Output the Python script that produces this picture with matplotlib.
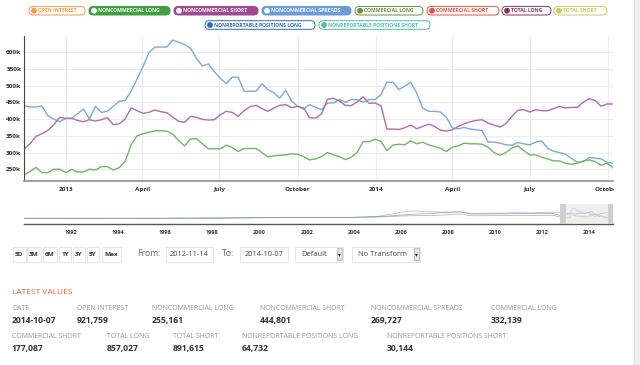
import matplotlib
matplotlib.use("Agg")
import matplotlib.pyplot as plt
import pandas as pd
from matplotlib.patches import FancyBboxPatch, Rectangle, Circle
from matplotlib.transforms import Bbox, TransformedBbox

plt.rcParams['font.family'] = ['Open Sans', 'DejaVu Sans']

# weekly COT report, thousands of contracts
weeks = pd.date_range("2012-11-13", periods=100, freq="7D")

nc_spreads = [440, 436, 436, 439, 410, 400, 392, 402, 402, 416, 430, 400, 438, 420, 423, 438, 453, 455, 483, 520, 556,
              598, 615, 615, 615, 636, 629, 623, 611, 581, 558, 565, 541, 521, 506, 525, 525, 483, 483, 483, 505,
              488, 478, 463, 486, 453, 438, 430, 443, 435, 428, 448, 448, 458, 450, 458, 458, 450, 458, 458, 473,
              510, 510, 488, 498, 510, 478, 433, 423, 423, 421, 405, 373, 371, 375, 370, 368, 366, 331, 331, 328,
              323, 322, 330, 326, 323, 331, 335, 313, 304, 300, 295, 283, 271, 273, 285, 283, 281, 271, 268]

nc_short = [310, 326, 348, 356, 366, 383, 405, 402, 402, 396, 392, 398, 394, 398, 404, 383, 386, 400, 433, 425, 417,
            420, 427, 422, 419, 406, 393, 390, 408, 405, 399, 397, 398, 413, 423, 420, 408, 425, 437, 441, 431,
            423, 433, 441, 443, 434, 438, 433, 404, 403, 415, 459, 462, 454, 441, 440, 451, 466, 447, 448, 440,
            370, 370, 369, 374, 382, 371, 378, 385, 378, 367, 364, 368, 378, 386, 392, 396, 398, 388, 382, 376,
            386, 408, 426, 428, 421, 428, 425, 425, 431, 438, 433, 435, 435, 450, 461, 455, 438, 445, 445]

nc_long = [233, 243, 256, 240, 240, 250, 250, 240, 250, 242, 242, 250, 248, 258, 258, 248, 255, 273, 323, 350, 356,
           361, 365, 365, 364, 355, 335, 320, 341, 341, 326, 311, 311, 311, 322, 315, 303, 312, 312, 312, 300,
           287, 290, 292, 293, 296, 295, 288, 278, 281, 288, 300, 293, 288, 279, 286, 300, 333, 332, 340, 333,
           306, 322, 325, 323, 335, 326, 331, 323, 318, 313, 303, 316, 320, 328, 326, 326, 325, 316, 300, 292,
           300, 313, 320, 306, 293, 293, 286, 281, 275, 275, 268, 265, 268, 275, 278, 273, 262, 268, 255]

# navigator history before the selected range (rough)
nav_dates = pd.to_datetime(["1990-01-01", "1992-01-01", "1994-01-01", "1996-01-01", "1998-01-01", "2000-01-01",
                            "2002-01-01", "2003-01-01", "2004-01-01", "2005-01-01", "2005-07-01", "2006-01-01",
                            "2006-07-01", "2007-01-01", "2007-07-01", "2008-01-01", "2008-07-01", "2009-01-01",
                            "2009-07-01", "2010-01-01", "2010-07-01", "2011-01-01", "2011-07-01", "2012-01-01",
                            "2012-07-01"])
nav_spreads = [228, 228, 229, 230, 235, 250, 255, 262, 270, 300, 380, 470, 520, 500, 480, 470, 480, 420, 430, 430,
               440, 450, 440, 460, 470]
nav_short = [228, 228, 229, 230, 238, 255, 258, 262, 268, 290, 320, 360, 390, 410, 440, 470, 490, 400, 400, 410,
             405, 420, 420, 430, 410]
nav_long = [228, 228, 229, 230, 236, 252, 256, 260, 265, 280, 300, 320, 330, 340, 350, 370, 400, 330, 330, 335,
            333, 340, 335, 345, 350]

yticks = [250, 300, 350, 400, 450, 500, 550, 600]
xtick_dates = pd.to_datetime(["2013-01-01", "2013-04-01", "2013-07-01", "2013-10-01",
                              "2014-01-01", "2014-04-01", "2014-07-01", "2014-10-01"])
xtick_labels = ["2013", "April", "July", "October", "2014", "April", "July", "October"]
nav_years = [1992, 1994, 1996, 1998, 2000, 2002, 2004, 2006, 2008, 2010, 2012, 2014]

# legend buttons: label, colour, filled, row, x0, x1
buttons = [("OPEN INTEREST", "#f39a45", False, 0, 29, 85),
           ("NONCOMMERCIAL LONG", "#3f9e3f", True, 0, 89, 170),
           ("NONCOMMERCIAL SHORT", "#9c4b92", True, 0, 174, 258),
           ("NONCOMMERCIAL SPREADS", "#6b9bd6", True, 0, 262, 351),
           ("COMMERCIAL LONG", "#6b8f3f", False, 0, 355, 423),
           ("COMMERCIAL SHORT", "#e0533f", False, 0, 427, 499),
           ("TOTAL LONG", "#8b3565", False, 0, 502, 551),
           ("TOTAL SHORT", "#cfc95f", False, 0, 554, 607),
           ("NONREPORTABLE POSITIONS LONG", "#2f6cb8", False, 1, 205, 315),
           ("NONREPORTABLE POSITIONS SHORT", "#4fbcaf", False, 1, 319, 430)]

latest_row1 = [("DATE", "2014-10-07", 12), ("OPEN INTEREST", "921,759", 77),
               ("NONCOMMERCIAL LONG", "255,161", 152), ("NONCOMMERCIAL SHORT", "444,801", 260),
               ("NONCOMMERCIAL SPREADS", "269,727", 371), ("COMMERCIAL LONG", "332,139", 491)]
latest_row2 = [("COMMERCIAL SHORT", "177,087", 12), ("TOTAL LONG", "857,027", 107),
               ("TOTAL SHORT", "891,615", 173), ("NONREPORTABLE POSITIONS LONG", "64,732", 242),
               ("NONREPORTABLE POSITIONS SHORT", "30,144", 387)]

BLUE = "#7aa9df"
PURPLE = "#b36cac"
GREEN = "#6cba5c"

fig = plt.figure(figsize=(6.4, 3.65), dpi=100)

# overlay in pixel units for the page furniture
ov = fig.add_axes([0, 0, 1, 1])
ov.set_xlim(0, 640)
ov.set_ylim(365, 0)
ov.axis("off")
ov.add_patch(Rectangle((634, 0), 6, 365, color="#eeeeee", lw=0))
ov.plot([633.5, 633.5], [0, 365], color="#dddddd", lw=0.6)


def px_axes(x0, y0, x1, y1):
    return fig.add_axes([x0 / 640, 1 - y1 / 365, (x1 - x0) / 640, (y1 - y0) / 365])


# legend pills
row_y = [10.7, 25]
for label, col, filled, row, x0, x1 in buttons:
    yc = row_y[row]
    h = 8.6
    ov.add_patch(FancyBboxPatch((x0, yc - h / 2), x1 - x0, h,
                                boxstyle="round,pad=0,rounding_size=4.3",
                                fc=col if filled else "white", ec=col, lw=0.7))
    ov.add_patch(Circle((x0 + 5, yc), 2.2, color="white" if filled else col))
    ov.text(x0 + 9, yc + 0.3, label, fontsize=3.6, fontweight="bold",
            color="white" if filled else col, va="center", ha="left")

# main chart
ax = px_axes(24, 36, 613, 181)
ax.plot(weeks, nc_spreads, color=BLUE, lw=1.0)
ax.plot(weeks, nc_short, color=PURPLE, lw=1.0)
ax.plot(weeks, nc_long, color=GREEN, lw=1.0)
ax.set_xlim(weeks[0], weeks[-1])
ax.set_ylim(215, 648)
ax.set_yticks(yticks)
ax.set_yticklabels([f"{v}k" for v in yticks])
ax.set_xticks(xtick_dates)
ax.set_xticklabels(xtick_labels)
ax.grid(True, color="#ececec", lw=0.8)
ax.set_axisbelow(True)
for s in ["top", "right"]:
    ax.spines[s].set_visible(False)
ax.spines["left"].set_color("#444444")
ax.spines["left"].set_linewidth(0.8)
ax.spines["bottom"].set_color("#999999")
ax.spines["bottom"].set_linewidth(1.3)
ax.tick_params(length=0, labelsize=4.6, labelcolor="#333333")
ax.tick_params(axis="y", pad=2)
ax.tick_params(axis="x", pad=4)
for t in ax.get_xticklabels() + ax.get_yticklabels():
    t.set_fontweight("bold")
ax.get_xticklabels()[-1].set_clip_box(TransformedBbox(Bbox.from_extents(0, 0, 614, 365), ov.transData))

# navigator
nav = px_axes(24, 204, 613, 224)
nav_end = pd.Timestamp("2015-01-01")
nav.plot(list(nav_dates) + list(weeks), nav_spreads + nc_spreads, color=BLUE, lw=0.5, alpha=0.8)
nav.plot(list(nav_dates) + list(weeks), nav_short + nc_short, color=PURPLE, lw=0.5, alpha=0.8)
nav.plot(list(nav_dates) + list(weeks), nav_long + nc_long, color=GREEN, lw=0.5, alpha=0.8)
nav.set_xlim(pd.Timestamp("1990-01-01"), nav_end)
nav.set_ylim(0, 800)
nav.axvspan(weeks[0], nav_end, color="#e2e2e2", alpha=0.55, lw=0, zorder=3)
nav.axvspan(weeks[0] - pd.Timedelta(days=45), weeks[0] + pd.Timedelta(days=45), color="#cfcfcf", lw=0, zorder=4)
nav.axvspan(nav_end - pd.Timedelta(days=80), nav_end, color="#cfcfcf", lw=0, zorder=4)
nav.set_yticks([])
nav.set_xticks(pd.to_datetime([f"{y}-01-01" for y in nav_years]))
nav.set_xticklabels([str(y) for y in nav_years])
nav.tick_params(length=0, labelsize=4.0, labelcolor="#333333", pad=4)
for t in nav.get_xticklabels():
    t.set_fontweight("bold")
for s in ["top", "right", "left"]:
    nav.spines[s].set_visible(False)
nav.spines["bottom"].set_color("#555555")
nav.spines["bottom"].set_linewidth(1.0)
nav.patch.set_alpha(0)

# range selector and inputs
by = 254
for lab, cx, w in [("5D", 19, 13), ("3M", 34, 14), ("6M", 50, 14), ("1Y", 65, 12),
                   ("3Y", 79, 12), ("5Y", 93, 12), ("Max", 111, 19)]:
    ov.add_patch(Rectangle((cx - w / 2, by - 7.5), w, 15, fc="white", ec="#e2e2e2", lw=0.6))
    ov.text(cx, by, lab, fontsize=4.6, fontweight="bold", color="#333333", ha="center", va="center")
ov.text(137, by, "From:", fontsize=6.2, color="#666666", ha="left", va="center")
ov.add_patch(Rectangle((166, by - 7.5), 47, 15, fc="white", ec="#e2e2e2", lw=0.6))
ov.text(189.5, by, "2012-11-14", fontsize=5.4, color="#444444", ha="center", va="center")
ov.text(222, by, "To:", fontsize=6.2, color="#666666", ha="left", va="center")
ov.add_patch(Rectangle((240, by - 7.5), 48, 15, fc="white", ec="#e2e2e2", lw=0.6))
ov.text(264, by, "2014-10-07", fontsize=5.4, color="#444444", ha="center", va="center")
for lab, x0, x1 in [("Default", 295, 343), ("No Transform", 352, 420)]:
    ov.add_patch(Rectangle((x0, by - 7.5), x1 - x0, 15, fc="white", ec="#e2e2e2", lw=0.6))
    ov.add_patch(Rectangle((x1 - 6, by - 6), 4.5, 12, fc="#e4e4e4", ec="#aaaaaa", lw=0.5))
    ov.text(x1 - 3.8, by + 0.5, "\u25be", fontsize=4, color="#222222", ha="center", va="center",
            family="DejaVu Sans")
    ov.text(x0 + 6, by, lab, fontsize=5.4, color="#444444", ha="left", va="center")

# latest values
ov.text(12, 293, "LATEST VALUES", fontsize=6.0, color="#e8643a", ha="left", va="center")
for rows, ly in [(latest_row1, 309), (latest_row2, 337)]:
    for lab, val, x in rows:
        ov.text(x, ly, lab, fontsize=5.0, color="#999999", ha="left", va="center")
        ov.text(x, ly + 11.5, val, fontsize=6.2, fontweight="bold", color="#333333", ha="left", va="center")

fig.savefig("out.png", dpi=100)
